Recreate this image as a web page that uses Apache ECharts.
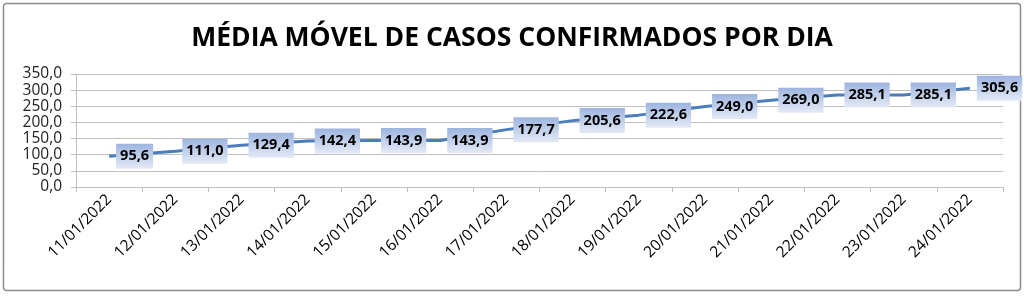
<!DOCTYPE html>
<html><head><meta charset="utf-8">
<script src="https://cdn.jsdelivr.net/npm/echarts@6/dist/echarts.min.js"></script>
<style>html,body{margin:0;padding:0;background:#fff}#c{width:1024px;height:296px}</style>
</head><body><div id="c"></div>
<script>
const title = 'MÉDIA MÓVEL DE CASOS CONFIRMADOS POR DIA';
const categories = ['11/01/2022','12/01/2022','13/01/2022','14/01/2022','15/01/2022','16/01/2022','17/01/2022','18/01/2022','19/01/2022','20/01/2022','21/01/2022','22/01/2022','23/01/2022','24/01/2022'];
const mediaMovel = [95.6,111.0,129.4,142.4,143.9,143.9,177.7,205.6,222.6,249.0,269.0,285.1,285.1,305.6];
const fmt = v => v.toFixed(1).replace('.', ',');
const chart = echarts.init(document.getElementById('c'));
chart.setOption({
  animation: false,
  backgroundColor: '#fff',
  title: {text: title, left: 'center', top: 20,
    textStyle: {fontFamily: 'Open Sans', fontWeight: 'bold', fontSize: 26.5, color: '#000'}},
  graphic: [{type: 'rect', shape: {x: 3.5, y: 3.5, width: 1017, height: 287, r: 3},
    style: {fill: 'none', stroke: '#8c8c8c', lineWidth: 1.5}, silent: true}],
  grid: {left: 76, right: 21, top: 74, bottom: 109},
  xAxis: {type: 'category', data: categories, boundaryGap: true,
    axisLine: {show: true, lineStyle: {color: '#bfbfbf'}},
    axisTick: {show: true, length: 5, lineStyle: {color: '#bfbfbf'}},
    axisLabel: {rotate: 45, fontFamily: 'Open Sans', fontSize: 15.5, color: '#000', margin: 10, interval: 0}},
  yAxis: {type: 'value', min: 0, max: 350, interval: 50,
    axisLine: {show: true, lineStyle: {color: '#bfbfbf'}},
    axisTick: {show: true, length: 5, lineStyle: {color: '#bfbfbf'}},
    splitLine: {lineStyle: {color: '#bfbfbf'}},
    axisLabel: {formatter: v => fmt(v), fontFamily: 'Open Sans', fontSize: 15.5, color: '#222', margin: 14}},
  series: [{type: 'line', data: mediaMovel, symbol: 'circle', symbolSize: 2, showSymbol: true,
    itemStyle: {color: 'rgba(74,126,187,0)', borderWidth: 0},
    lineStyle: {color: '#4a7ebb', width: 3},
    label: {show: true, position: 'right', distance: 6, formatter: p => fmt(p.value),
      fontFamily: 'Open Sans', fontWeight: 'bold', fontSize: 14.5, color: '#000',
      padding: [6, 4, 4, 4],
      backgroundColor: new echarts.graphic.LinearGradient(0, 0, 0, 1, [
        {offset: 0, color: '#9db4df'}, {offset: 1, color: '#e3eaf6'}])}}]
});
</script></body></html>
